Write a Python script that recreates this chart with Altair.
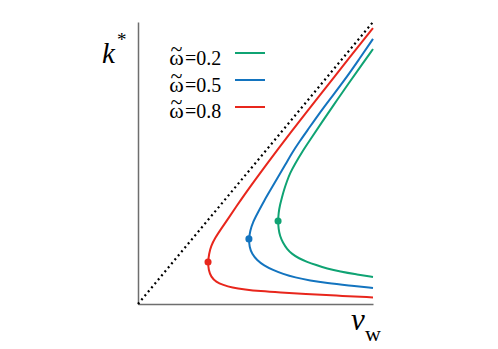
import altair as alt
import pandas as pd

series = ["0.2", "0.5", "0.8"]
colors = ["#0fa373", "#1374bf", "#e8261c"]

# red curve (omega = 0.8), from the lower-right end round to the upper-right end
red_x = [1.000, 0.838, 0.711, 0.604, 0.519, 0.455, 0.400, 0.362, 0.332, 0.311,
         0.300, 0.298, 0.302, 0.311, 0.328, 0.353, 0.383, 0.417, 0.455, 0.498,
         0.545, 0.596, 0.651, 0.711, 0.774, 0.838, 0.902, 0.953, 1.000]
red_y = [0.028, 0.036, 0.043, 0.049, 0.055, 0.062, 0.070, 0.081, 0.094, 0.115,
         0.145, 0.179, 0.213, 0.247, 0.281, 0.319, 0.362, 0.413, 0.468, 0.528,
         0.591, 0.660, 0.732, 0.809, 0.889, 0.970, 1.051, 1.115, 1.174]
# blue curve (omega = 0.5)
blue_x = [1.000, 0.894, 0.804, 0.732, 0.668, 0.617, 0.574, 0.536, 0.506, 0.485,
          0.474, 0.472, 0.477, 0.489, 0.511, 0.536, 0.566, 0.596, 0.626, 0.655,
          0.689, 0.728, 0.770, 0.821, 0.879, 0.940, 1.000]
blue_y = [0.068, 0.079, 0.089, 0.100, 0.113, 0.128, 0.145, 0.164, 0.187, 0.213,
          0.243, 0.277, 0.311, 0.349, 0.391, 0.438, 0.489, 0.540, 0.591, 0.643,
          0.694, 0.749, 0.809, 0.877, 0.953, 1.040, 1.128]
# green curve (omega = 0.2)
green_x = [1.000, 0.928, 0.860, 0.804, 0.757, 0.719, 0.685, 0.655, 0.634, 0.617,
           0.604, 0.598, 0.596, 0.598, 0.604, 0.613, 0.621, 0.634, 0.647, 0.668,
           0.698, 0.732, 0.783, 0.838, 0.894, 0.949, 1.000]
green_y = [0.115, 0.126, 0.138, 0.151, 0.166, 0.179, 0.194, 0.213, 0.234, 0.260,
           0.289, 0.319, 0.353, 0.387, 0.421, 0.455, 0.485, 0.523, 0.557, 0.596,
           0.647, 0.698, 0.774, 0.855, 0.936, 1.013, 1.085]

# turning points
dot_x = [0.596, 0.472, 0.298]
dot_y = [0.353, 0.277, 0.179]

diag_x = [0.0, 1.0]
diag_y = [0.0, 1.2]

rows = []
for s, xs_, ys_ in [("0.2", green_x, green_y), ("0.5", blue_x, blue_y), ("0.8", red_x, red_y)]:
    for i, (a, b) in enumerate(zip(xs_, ys_)):
        rows.append({"x": a, "y": b, "s": s, "i": i})
curves = pd.DataFrame(rows)
dots = pd.DataFrame({"x": dot_x, "y": dot_y, "s": series})
diag = pd.DataFrame({"x": diag_x, "y": diag_y})

xs = alt.Scale(domain=[0, 1], nice=False, zero=False)
ys = alt.Scale(domain=[0, 1.2], nice=False, zero=False)
cs = alt.Scale(domain=series, range=colors)
ax = dict(domain=True, ticks=False, labels=False, grid=False, title=None,
          domainColor="#6e6e6e", domainWidth=1.5)

diag_layer = alt.Chart(diag).mark_line(
    color="black", strokeWidth=2.2, strokeDash=[2, 3.2], strokeCap="butt"
).encode(
    x=alt.X("x:Q", scale=xs, axis=alt.Axis(**ax)),
    y=alt.Y("y:Q", scale=ys, axis=alt.Axis(**ax)),
)

curve_layer = alt.Chart(curves).mark_line(strokeWidth=2, interpolate="basis").encode(
    x=alt.X("x:Q", scale=xs),
    y=alt.Y("y:Q", scale=ys),
    color=alt.Color("s:N", scale=cs, legend=None),
    detail="s:N",
    order="i:Q",
)

dot_layer = alt.Chart(dots).mark_circle(size=50, opacity=1).encode(
    x=alt.X("x:Q", scale=xs),
    y=alt.Y("y:Q", scale=ys),
    color=alt.Color("s:N", scale=cs, legend=None),
)

one = pd.DataFrame({"a": [0]})
layers = [diag_layer, curve_layer, dot_layer]

SERIF = "Liberation Serif"


def txt(text, x, y, size, align="left", style="normal"):
    return alt.Chart(one).mark_text(
        text=text, align=align, baseline="alphabetic", font=SERIF,
        fontSize=size, fontStyle=style, color="black"
    ).encode(x=alt.value(x), y=alt.value(y))


legend_rows = [(31, 43), (58, 70), (85, 96)]
for (ly, ty), s, c in zip(legend_rows, series, colors):
    layers.append(txt("ω", 38.5, ty, 22, align="center"))
    layers.append(txt("~", 38.5, ty - 9.5, 22, align="center"))
    layers.append(txt("=" + s, 47, ty, 20))
    layers.append(
        alt.Chart(one).mark_rule(color=c, strokeWidth=2).encode(
            x=alt.value(97), x2=alt.value(127), y=alt.value(ly)
        )
    )

# axis labels
layers.append(txt("k", -36, 41, 29, style="italic"))
layers.append(txt("*", -21, 24, 19))
layers.append(txt("v", 213, 308, 31, style="italic"))
layers.append(txt("w", 227, 319, 22))

chart = alt.layer(*layers).properties(
    width=235, height=282,
    autosize=alt.AutoSizeParams(type="none"),
    padding={"left": 130, "top": 14, "right": 117, "bottom": 41},
).configure_view(stroke=None)

chart.save("out.html", embed_options={"renderer": "svg", "actions": False})
